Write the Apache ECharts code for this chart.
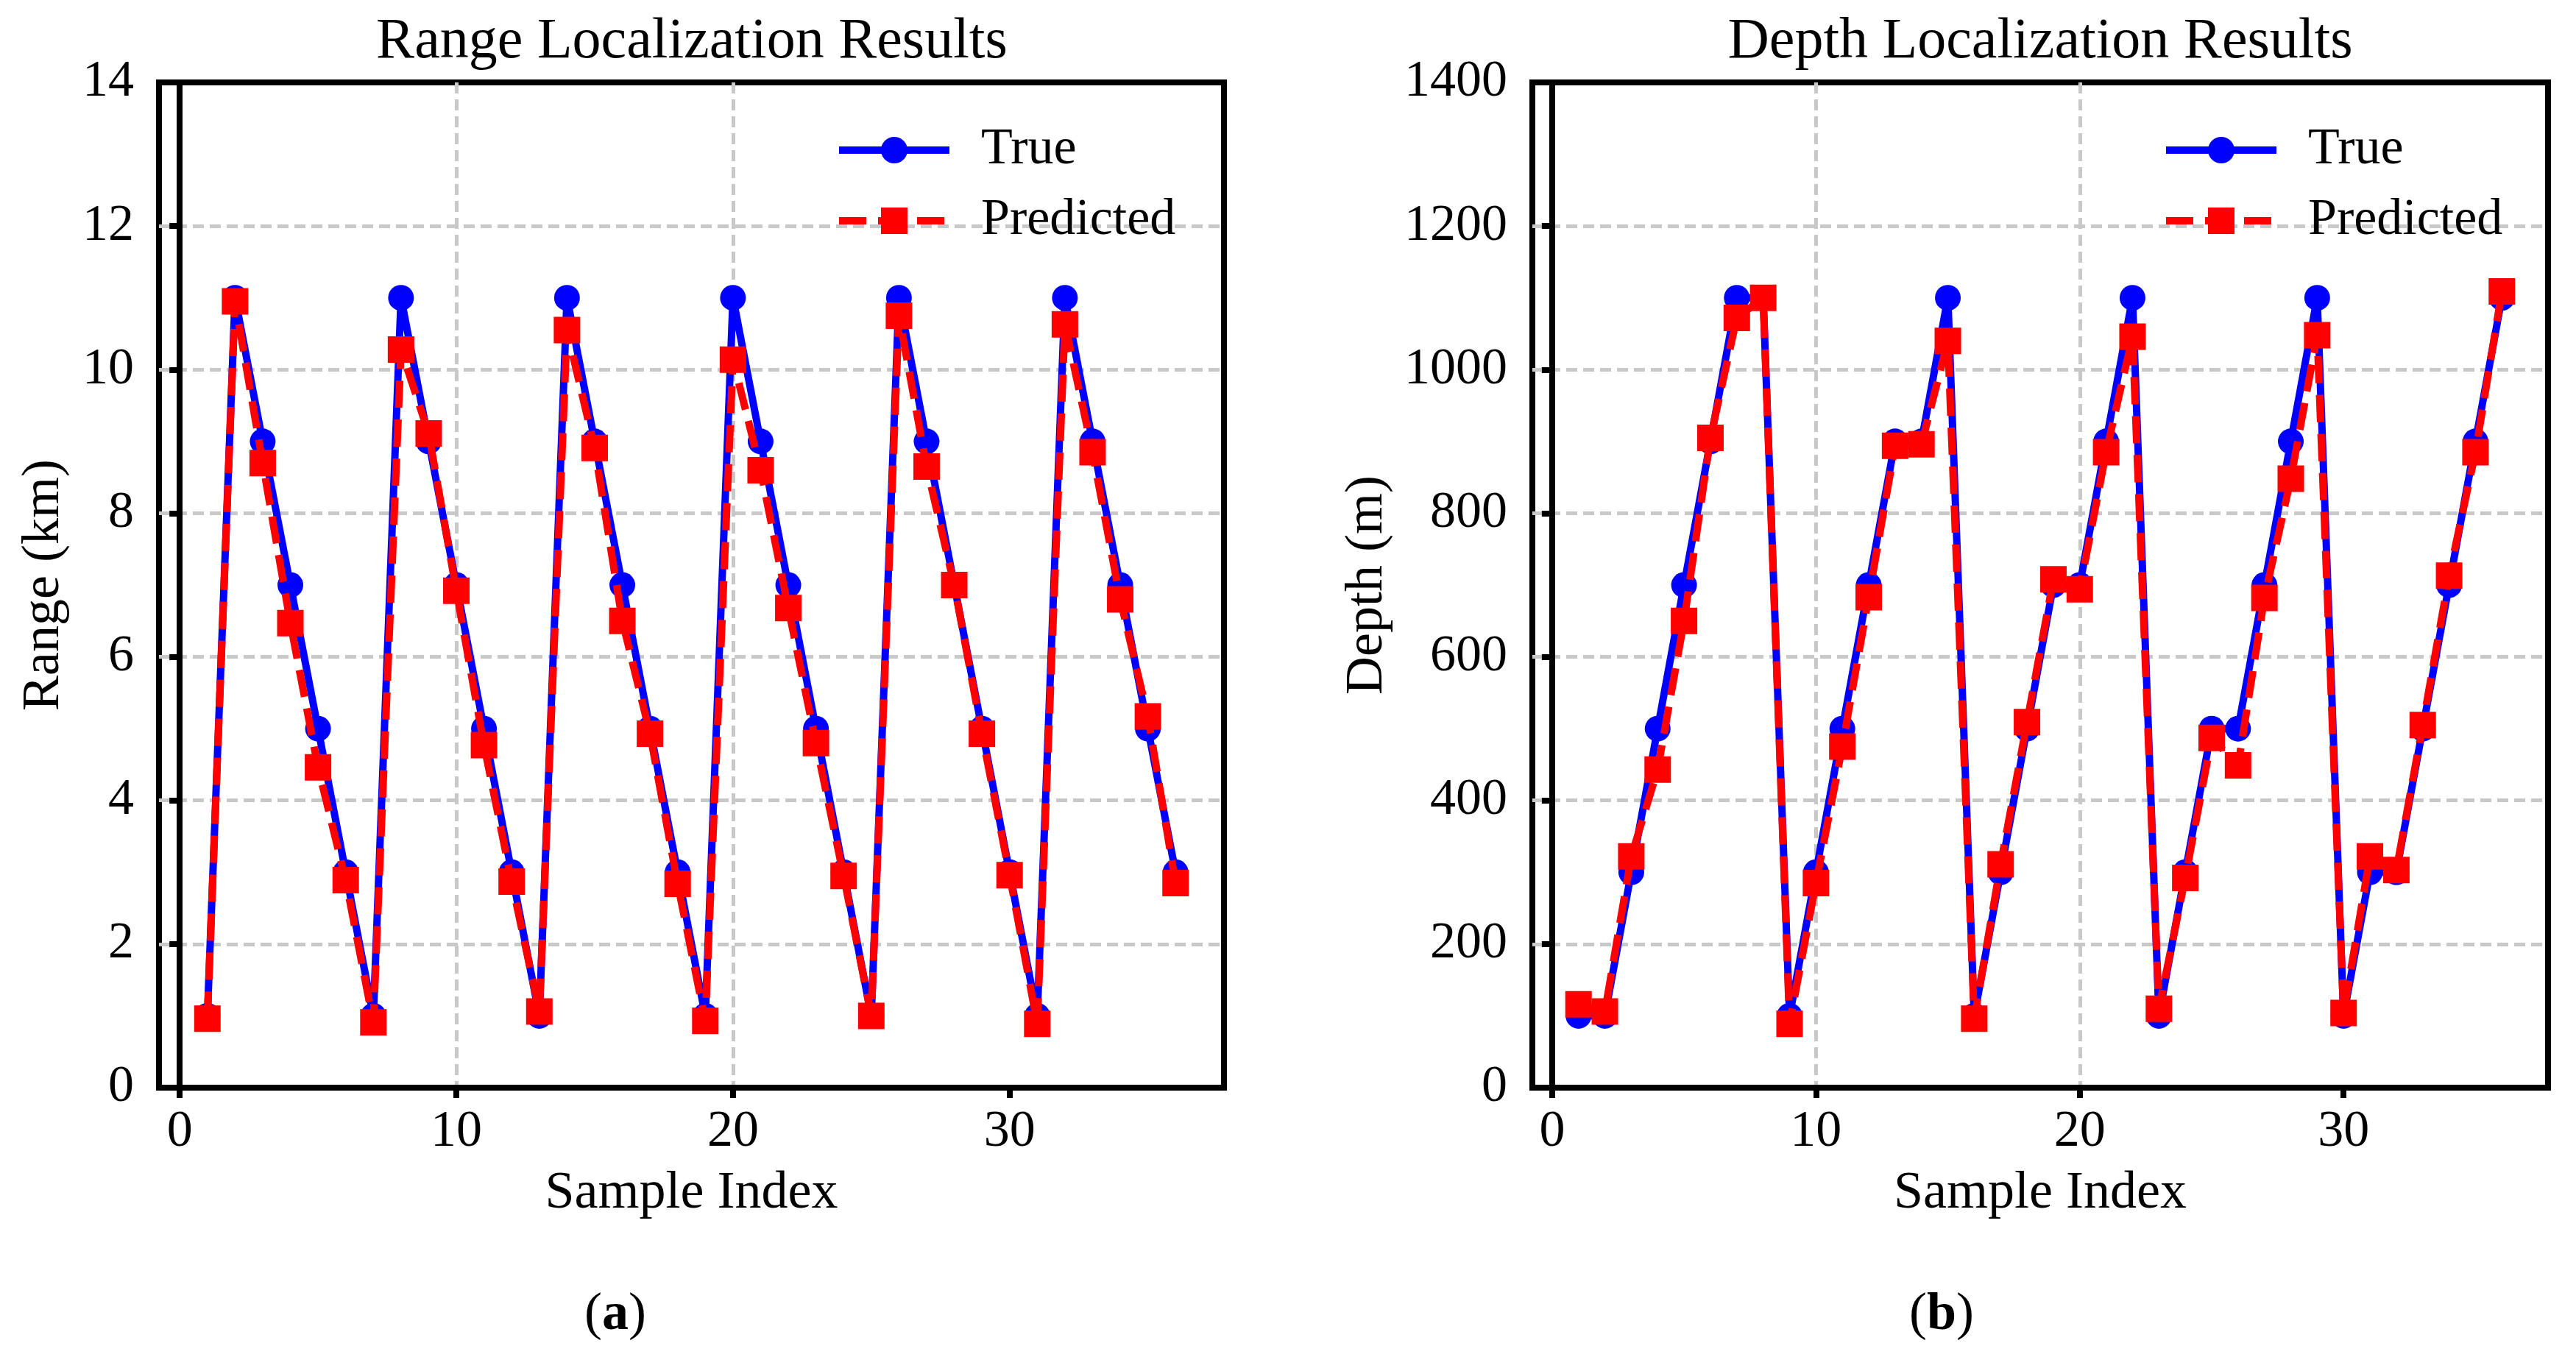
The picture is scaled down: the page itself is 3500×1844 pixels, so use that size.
<!DOCTYPE html>
<html>
<head>
<meta charset="utf-8">
<script src="https://cdn.jsdelivr.net/npm/echarts@6/dist/echarts.min.js"></script>
<style>
    html, body { margin: 0; padding: 0; background: #fff; }
    #chart { width: 3500px; height: 1844px; }
</style>
</head>
<body>
<div id="chart"></div>
<script>
// 数据
const sampleIndex = [1, 2, 3, 4, 5, 6, 7, 8, 9, 10, 11, 12, 13, 14, 15, 16, 17, 18,
    19, 20, 21, 22, 23, 24, 25, 26, 27, 28, 29, 30, 31, 32, 33, 34, 35, 36];

const rangeTrue = [1, 11, 9, 7, 5, 3, 1, 11, 9, 7, 5, 3, 1, 11, 9, 7, 5, 3,
    1, 11, 9, 7, 5, 3, 1, 11, 9, 7, 5, 3, 1, 11, 9, 7, 5, 3];
const rangePred = [0.96, 10.95, 8.7, 6.47, 4.46, 2.89, 0.91, 10.28, 9.11, 6.92, 4.77, 2.87,
    1.06, 10.55, 8.91, 6.5, 4.93, 2.84, 0.93, 10.14, 8.6, 6.68, 4.8, 2.95,
    1.0, 10.75, 8.65, 7.0, 4.93, 2.96, 0.89, 10.63, 8.85, 6.8, 5.17, 2.85];

const depthTrue = [100, 100, 300, 500, 700, 900, 1100, 1100, 100, 300, 500, 700, 900, 900, 1100,
    100, 300, 500, 700, 700, 900, 1100, 100, 300, 500, 500, 700, 900, 1100,
    100, 300, 300, 500, 700, 900, 1100];
const depthPred = [116, 106, 322, 443, 650, 905, 1072, 1100, 89, 285, 475, 683, 894, 896, 1040,
    96, 311, 509, 708, 694, 885, 1046, 110, 292, 487, 449, 682, 848, 1048,
    104, 322, 303, 505, 713, 885, 1109];

const xTicks = [0, 10, 20, 30];
const seriesNames = ['True', 'Predicted'];

const FONT = 'Liberation Serif';

function pairs(xs, ys) {
    return xs.map((x, i) => [x, ys[i]]);
}

const gridLine = {
    show: true,
    showMinLine: false,
    showMaxLine: false,
    lineStyle: { color: '#c8c8c8', width: 5, type: [15, 8] }
};

function makeX(gridIndex) {
    return {
        type: 'value',
        gridIndex: gridIndex,
        min: -0.75,
        max: 37.75,
        name: 'Sample Index',
        nameLocation: 'middle',
        nameGap: 108,
        nameTextStyle: { fontFamily: FONT, fontSize: 72, color: '#000' },
        axisLine: { show: true, onZero: false, lineStyle: { color: '#000', width: 8 } },
        axisTick: { show: true, customValues: xTicks, length: 14, lineStyle: { color: '#000', width: 8 } },
        axisLabel: { customValues: xTicks, margin: 26, fontFamily: FONT, fontSize: 70, color: '#000' },
        splitLine: gridLine
    };
}

function makeY(gridIndex, name, max, interval, gap) {
    return {
        type: 'value',
        gridIndex: gridIndex,
        min: 0,
        max: max,
        interval: interval,
        name: name,
        nameLocation: 'middle',
        nameGap: gap,
        nameTextStyle: { fontFamily: FONT, fontSize: 72, color: '#000' },
        axisLine: { show: true, lineStyle: { color: '#000', width: 8 } },
        axisTick: { show: true, length: 14, lineStyle: { color: '#000', width: 8 } },
        axisLabel: {
            margin: 34, fontFamily: FONT, fontSize: 70, color: '#000',
            formatter: v => String(v)
        },
        splitLine: gridLine
    };
}

function makeSeries(idx, trueVals, predVals) {
    return [{
        name: seriesNames[0],
        type: 'line',
        xAxisIndex: idx,
        yAxisIndex: idx,
        data: pairs(sampleIndex, trueVals),
        symbol: 'circle',
        symbolSize: 35,
        showAllSymbol: true,
        animation: false,
        itemStyle: { color: '#0000ff' },
        lineStyle: { color: '#0000ff', width: 10 },
        z: 3
    }, {
        name: seriesNames[1],
        type: 'line',
        xAxisIndex: idx,
        yAxisIndex: idx,
        data: pairs(sampleIndex, predVals),
        symbol: 'rect',
        symbolSize: 36,
        showAllSymbol: true,
        animation: false,
        itemStyle: { color: '#ff0000' },
        lineStyle: { color: '#ff0000', width: 10, type: [37, 16] },
        z: 4
    }];
}

function makeLegend(left) {
    return {
        orient: 'vertical',
        left: left,
        top: 164,
        itemWidth: 150,
        itemHeight: 45,
        itemGap: 26,
        selectedMode: false,
        data: seriesNames,
        lineStyle: { width: 10 },
        textStyle: { fontFamily: FONT, fontSize: 70, color: '#000', padding: [0, 0, 0, 38] }
    };
}

function textEl(text, x, y, size, rich) {
    return {
        type: 'text',
        x: x,
        y: y,
        z: 10,
        style: {
            text: text,
            fontFamily: FONT,
            fontSize: size,
            fill: '#000',
            align: 'center',
            verticalAlign: 'middle',
            rich: rich
        }
    };
}

function init() {
    const chart = echarts.init(document.getElementById('chart'), null, { renderer: 'canvas' });
    const capRich = {
        n: { fontFamily: FONT, fontSize: 72, color: '#000' },
        b: { fontFamily: FONT, fontSize: 72, fontWeight: 'bold', color: '#000' }
    };
    const option = {
        backgroundColor: '#fff',
        animation: false,
        grid: [
            { left: 216, top: 112, width: 1447, height: 1366, show: true, borderColor: '#000', borderWidth: 8 },
            { left: 2082, top: 112, width: 1380, height: 1366, show: true, borderColor: '#000', borderWidth: 8 }
        ],
        xAxis: [makeX(0), makeX(1)],
        yAxis: [
            makeY(0, 'Range (km)', 14, 2, 120),
            makeY(1, 'Depth (m)', 1400, 200, 188)
        ],
        legend: [makeLegend(1130), makeLegend(2933)],
        series: makeSeries(0, rangeTrue, rangePred).concat(makeSeries(1, depthTrue, depthPred)),
        graphic: [
            textEl('Range Localization Results', 940, 58, 78),
            textEl('Depth Localization Results', 2772, 58, 78),
            textEl('{n|(}{b|a}{n|)}', 836, 1787, 72, capRich),
            textEl('{n|(}{b|b}{n|)}', 2638, 1787, 72, capRich)
        ]
    };
    chart.setOption(option);
    window.addEventListener('resize', () => chart.resize());
}

document.addEventListener('DOMContentLoaded', init);
</script>
</body>
</html>
